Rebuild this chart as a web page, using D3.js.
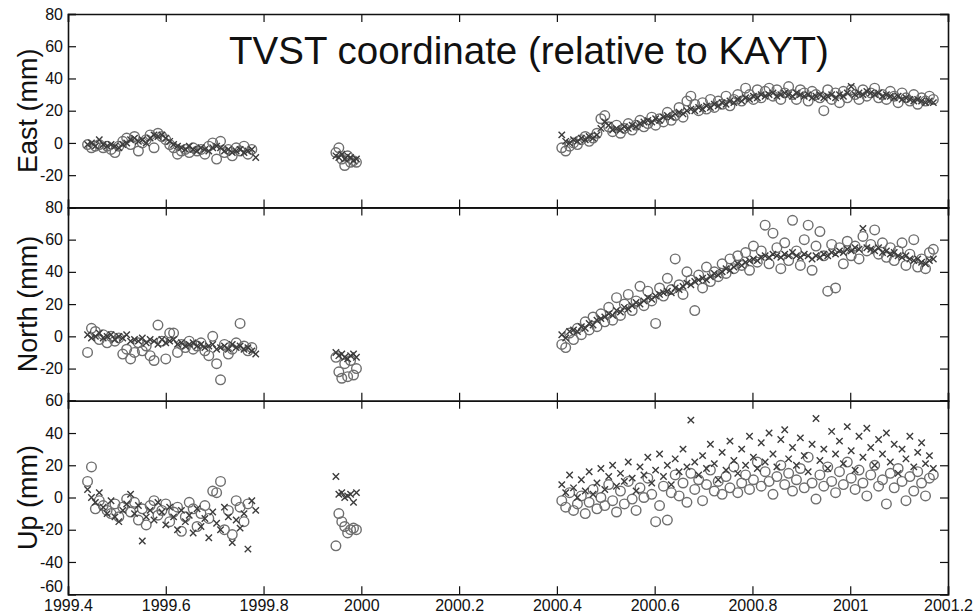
<!DOCTYPE html>
<html>
<head>
<meta charset="utf-8">
<script src="https://cdn.jsdelivr.net/npm/d3@7"></script>
<style>
  body { margin: 0; background: #fff; }
  text { font-family: "Liberation Sans", Arial, Helvetica, sans-serif; }
</style>
</head>
<body>
<script>
// sample epochs (decimal year), three observing campaigns
const tSeg1 = [1999.440,1999.448,1999.456,1999.464,1999.472,1999.480,1999.488,1999.496,1999.504,1999.512,
  1999.520,1999.528,1999.536,1999.544,1999.552,1999.560,1999.568,1999.576,1999.584,1999.592,
  1999.600,1999.608,1999.616,1999.624,1999.632,1999.640,1999.648,1999.656,1999.664,1999.672,
  1999.680,1999.688,1999.696,1999.704,1999.712,1999.720,1999.728,1999.736,1999.744,1999.752,
  1999.760,1999.768,1999.776,1999.784];
const tSeg2 = [1999.948,1999.954,1999.960,1999.966,1999.972,1999.978,1999.984,1999.990];
const tSeg3 = [2000.410,2000.418,2000.426,2000.434,2000.442,2000.450,2000.458,2000.466,2000.474,2000.482,
  2000.490,2000.498,2000.506,2000.514,2000.522,2000.530,2000.538,2000.546,2000.554,2000.562,
  2000.570,2000.578,2000.586,2000.594,2000.602,2000.610,2000.618,2000.626,2000.634,2000.642,
  2000.650,2000.658,2000.666,2000.674,2000.682,2000.690,2000.698,2000.706,2000.714,2000.722,
  2000.730,2000.738,2000.746,2000.754,2000.762,2000.770,2000.778,2000.786,2000.794,2000.802,
  2000.810,2000.818,2000.826,2000.834,2000.842,2000.850,2000.858,2000.866,2000.874,2000.882,
  2000.890,2000.898,2000.906,2000.914,2000.922,2000.930,2000.938,2000.946,2000.954,2000.962,
  2000.970,2000.978,2000.986,2000.994,2001.002,2001.010,2001.018,2001.026,2001.034,2001.042,
  2001.050,2001.058,2001.066,2001.074,2001.082,2001.090,2001.098,2001.106,2001.114,2001.122,
  2001.130,2001.138,2001.146,2001.154,2001.162,2001.170];

// East (mm): x = one solution, o = the other
const eastX1 = [-1,0,-2,2,-1,-2,-1,-2,-3,-1, 0,2,3,1,2,0,3,5,4,5, 3,1,-1,-2,-3,-4,-2,-4,-5,-3,
  -4,-5,-3,-2,-3,-5,-4,-6,-5,-4, -6,-5,-4,-9];
const eastO1 = [-1,-3,-2,-1,-3,-2,-4,-6,-2,1, 3,-1,4,-5,0,2,5,-3,6,4, 2,-1,-3,-7,-5,-4,-6,-3,-5,-4,
  -7,-2,0,-10,1,-6,-4,-8,-3,-5, -2,-7,-4,null];
const eastX2 = [-8,-9,-7,-10,-8,-9,-11,-10];
const eastO2 = [-6,-3,-10,-14,-8,-12,-11,-12];
const eastX3 = [5,1,0,2,1,3,2,4,3,5, 9,13,11,8,9,8,10,9,11,10, 12,13,14,13,15,14,16,17,16,18,
  19,18,20,21,20,22,21,23,22,24, 23,25,24,26,25,27,26,28,27,29, 28,30,29,30,31,29,30,31,30,29,
  31,30,29,30,28,29,30,28,29,30, 28,30,29,31,35,30,31,30,32,31, 30,31,29,30,29,28,29,27,28,27,
  26,27,26,25,26,25];
const eastO3 = [-3,-5,-2,0,-1,2,4,1,3,6, 15,17,10,7,11,6,9,12,8,11, 14,10,12,16,11,15,13,19,14,17,
  22,16,26,29,24,20,25,21,27,22, 26,24,29,23,27,30,26,34,30,27, 33,28,32,34,29,33,27,31,35,30,
  27,33,31,26,32,30,28,20,33,27, 31,25,32,28,33,30,27,33,29,31, 34,28,30,27,32,29,25,31,28,26,
  30,24,28,26,29,27];

// North (mm)
const northX1 = [1,-1,0,2,-1,0,1,-2,0,-1, 1,-3,-2,-3,-1,-4,-2,-3,-5,-2, -4,-3,-2,-5,-4,-6,-5,-4,-6,-5,
  -7,-6,-5,-8,-7,-6,-8,-5,-7,-6, -8,-7,-9,-11];
const northO1 = [-10,5,3,-2,1,-4,0,-3,-1,-11, -8,-14,-10,-4,-9,-6,-12,-15,7,-3, -14,2,2,-10,-5,-7,-3,-8,-6,-4,
  -9,-12,0,-17,-27,-5,-11,-8,-4,8, -6,-9,-7,null];
const northX2 = [-10,-12,-11,-13,-14,-12,-11,-13];
const northO2 = [-13,-22,-26,-17,-25,-15,-24,-20];
const northX3 = [1,-1,3,4,3,6,5,8,7,10, 11,12,14,13,16,15,18,17,19,21, 20,22,24,23,25,26,27,28,27,30,
  29,31,33,32,34,35,36,35,37,39, 38,40,42,41,43,45,44,46,47,48, 47,49,50,49,51,50,49,51,50,52,
  50,49,51,50,48,50,49,51,50,52, 51,53,52,54,53,55,54,67,55,54, 53,55,52,53,51,52,50,49,50,48,
  47,48,46,45,47,48];
const northO3 = [-5,-7,2,-2,5,1,9,4,12,6, 14,9,18,10,24,13,20,26,16,22, 31,19,28,22,8,30,25,36,29,48,
  32,26,40,35,16,38,30,43,34,40, 37,45,39,48,42,50,44,52,41,56, 46,53,69,45,64,55,42,58,47,72,
  53,44,60,69,41,56,65,50,28,57, 30,55,45,59,50,56,48,62,53,57, 66,51,58,49,55,47,53,58,44,51,
  60,43,48,42,52,54];

// Up (mm)
const upX1 = [5,0,-3,3,-6,-10,-2,-12,-15,-8, -4,2,-10,-5,-27,-12,-8,-14,-3,-9, -17,-6,-12,-20,-8,-15,-11,-22,-7,-18,
  -13,-25,-9,-16,-20,-6,-12,-28,-14,-19, -10,-32,-2,-8];
const upO1 = [10,19,-7,-2,-5,-8,-10,-4,-12,-6, -1,-9,-3,-14,-7,-17,-5,-2,-11,-8, -4,-15,-9,-6,-21,-12,-3,-7,-18,-10,
  -5,-13,4,3,10,-20,-8,-23,-2,-6, -15,-4,null,null];
const upX2 = [13,2,3,0,1,2,-3,3];
const upO2 = [-30,-10,-15,-18,-22,-20,-19,-20];
const upX3 = [8,3,14,6,0,11,4,16,2,9, 18,5,13,20,7,15,10,22,12,4, 19,14,25,9,17,27,13,20,8,24,
  16,30,19,48,22,14,26,18,33,21, 11,28,17,35,23,15,30,20,38,25, 18,34,22,40,27,19,36,42,24,31,
  20,37,26,16,33,49,23,30,18,41, 27,35,21,44,29,17,38,25,43,31, 20,36,27,40,22,33,15,30,24,38,
  19,28,34,21,26,18];
const upO3 = [-2,-6,3,-8,-4,1,-10,-3,5,-7, 0,-5,8,-2,-9,4,-4,10,-1,-8, 6,0,12,2,-15,-5,7,-14,3,14,
  1,9,-3,15,5,11,-2,8,17,4, 10,2,13,6,19,3,9,14,5,11, 22,7,16,10,2,13,20,8,15,4, 11,18,6,25,9,-1,14,7,19,10,
  3,16,8,22,12,5,17,9,1,14, 20,7,11,-4,15,6,18,10,-2,13, 4,16,9,1,12,14];

const times = [...tSeg1, ...tSeg2, ...tSeg3];
const panels = [
  { label: "East (mm)",  x: [...eastX1, ...eastX2, ...eastX3],   o: [...eastO1, ...eastO2, ...eastO3],   domain: [-40, 80], ticks: [-40,-20,0,20,40,60,80], shown: [-20,0,20,40,60,80] },
  { label: "North (mm)", x: [...northX1, ...northX2, ...northX3], o: [...northO1, ...northO2, ...northO3], domain: [-40, 80], ticks: [-40,-20,0,20,40,60,80], shown: [-20,0,20,40,60,80] },
  { label: "Up (mm)",    x: [...upX1, ...upX2, ...upX3],         o: [...upO1, ...upO2, ...upO3],         domain: [-60, 60], ticks: [-60,-40,-20,0,20,40,60], shown: [-60,-40,-20,0,20,40,60] }
];
const xTickVals = [1999.4, 1999.6, 1999.8, 2000, 2000.2, 2000.4, 2000.6, 2000.8, 2001, 2001.2];

const width = 974, height = 616;
const plotLeft = 68, plotRight = 948, plotTop = 14, panelH = 193.4;

const svg = d3.select("body").append("svg")
  .attr("width", width).attr("height", height);

const x = d3.scaleLinear().domain([1999.4, 2001.2]).range([plotLeft, plotRight]);
const xfmt = d => String(+d.toFixed(1));

panels.forEach((p, k) => {
  const y0 = plotTop + k * panelH, y1 = y0 + panelH;
  const y = d3.scaleLinear().domain(p.domain).range([y1, y0]);
  const g = svg.append("g");

  // inward ticks on all four sides
  g.append("g").attr("transform", `translate(${plotLeft},0)`)
    .call(d3.axisLeft(y).tickValues(p.ticks).tickSize(-8).tickPadding(5)
      .tickFormat(d => p.shown.includes(d) ? String(d) : ""));
  g.append("g").attr("transform", `translate(${plotRight},0)`)
    .call(d3.axisRight(y).tickValues(p.ticks).tickSize(-8).tickFormat(""));
  g.append("g").attr("transform", `translate(0,${y0})`)
    .call(d3.axisTop(x).tickValues(xTickVals).tickSize(-8).tickFormat(""));
  g.append("g").attr("transform", `translate(0,${y1})`)
    .call(d3.axisBottom(x).tickValues(xTickVals).tickSize(-8).tickPadding(k == 2 ? 5 : 0)
      .tickFormat(k == 2 ? xfmt : ""));

  g.selectAll(".domain").attr("stroke", "#111").attr("stroke-width", 1.6);
  g.selectAll(".tick line").attr("stroke", "#111").attr("stroke-width", 1.2);
  g.selectAll(".tick text").attr("fill", "#111").style("font-size", "16px");

  // axis title
  svg.append("text")
    .attr("transform", `translate(37,${(y0 + y1) / 2}) rotate(-90)`)
    .attr("text-anchor", "middle")
    .style("font-size", "27px")
    .attr("fill", "#111")
    .text(p.label);

  const ptsO = times.map((t, i) => ({ t: t, v: p.o[i] })).filter(d => d.v != null);
  const ptsX = times.map((t, i) => ({ t: t, v: p.x[i] })).filter(d => d.v != null);

  g.selectAll("circle.o").data(ptsO).join("circle")
    .attr("class", "o")
    .attr("cx", d => x(d.t)).attr("cy", d => y(d.v)).attr("r", 4.8)
    .attr("fill", "none").attr("stroke", "#6e6e6e").attr("stroke-width", 1.4);

  const s = 3.2;
  g.selectAll("path.x").data(ptsX).join("path")
    .attr("class", "x")
    .attr("d", d => {
      const cx = x(d.t), cy = y(d.v);
      return `M${cx - s},${cy - s}L${cx + s},${cy + s}M${cx - s},${cy + s}L${cx + s},${cy - s}`;
    })
    .attr("fill", "none").attr("stroke", "#3c3c3c").attr("stroke-width", 1.4);
});

// the lowest Up label sits a touch higher so it clears the year labels
svg.selectAll(".tick text").filter(function () { return this.textContent === "-60"; })
  .attr("dy", "-0.15em");

svg.append("text")
  .attr("x", 529).attr("y", 64)
  .attr("text-anchor", "middle")
  .style("font-size", "38.5px")
  .attr("fill", "#111")
  .text("TVST coordinate (relative to KAYT)");
</script>
</body>
</html>
